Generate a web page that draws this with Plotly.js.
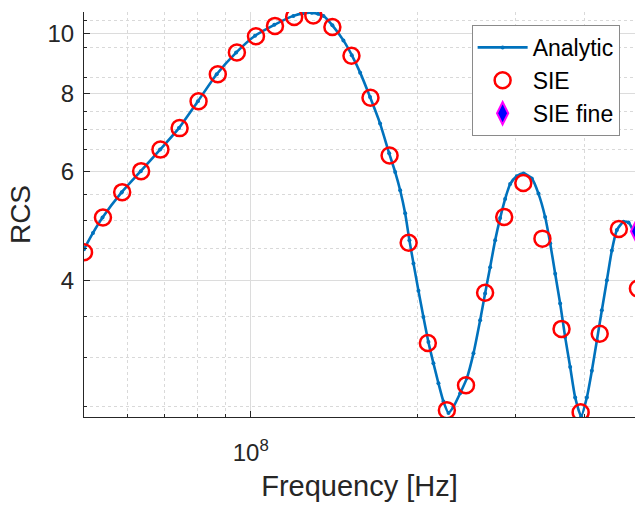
<!DOCTYPE html>
<html>
<head>
<meta charset="utf-8">
<script src="https://cdn.plot.ly/plotly-3.0.1.min.js"></script>
<style>
  html, body { margin: 0; padding: 0; background: #ffffff; overflow: hidden; }
  #chart { width: 635px; height: 505px; }
</style>
</head>
<body>
<div id="chart"></div>
<script>
// Analytic curve (frequency in Hz, RCS)
var analyticFreq = [
  5.00e7, 5.19e7, 5.40e7, 5.85e7, 6.33e7, 6.86e7, 7.42e7, 8.03e7, 8.68e7, 9.41e7,
  1.018e8, 1.103e8, 1.194e8, 1.243e8, 1.289e8, 1.323e8, 1.353e8, 1.404e8, 1.470e8, 1.522e8,
  1.576e8, 1.642e8, 1.712e8, 1.778e8, 1.823e8, 1.861e8, 1.900e8, 1.934e8, 1.967e8, 2.008e8,
  2.050e8, 2.093e8, 2.137e8, 2.182e8, 2.228e8, 2.275e8, 2.322e8, 2.388e8, 2.455e8, 2.524e8,
  2.595e8, 2.649e8, 2.705e8, 2.762e8, 2.820e8, 2.879e8, 2.940e8, 3.023e8, 3.107e8, 3.217e8,
  3.307e8, 3.400e8, 3.472e8, 3.545e8, 3.619e8, 3.695e8, 3.773e8, 3.852e8, 3.949e8, 4.044e8,
  4.129e8, 4.216e8, 4.304e8, 4.395e8, 4.487e8, 4.581e8, 4.709e8, 4.808e8, 4.909e8, 5.00e8
];
var analyticRCS = [
  4.49, 4.77, 5.05, 5.55, 6.00, 6.50, 7.04, 7.78, 8.60, 9.32,
  9.92, 10.33, 10.68, 10.78, 10.80, 10.76, 10.68, 10.31, 9.75, 9.23,
  8.65, 7.90, 7.16, 6.41, 5.98, 5.59, 5.13, 4.64, 4.26, 3.85,
  3.49, 3.18, 2.94, 2.73, 2.55, 2.445, 2.50, 2.63, 2.78, 3.05,
  3.45, 3.81, 4.20, 4.64, 5.04, 5.41, 5.72, 5.89, 5.95, 5.84,
  5.52, 5.06, 4.59, 4.10, 3.67, 3.24, 2.90, 2.59, 2.415, 2.59,
  2.86, 3.20, 3.58, 4.00, 4.47, 4.82, 4.97, 4.96, 4.79, 4.56
];

// SIE samples
var sieFreq = [
  5.00e7, 5.41e7, 5.86e7, 6.34e7, 6.87e7, 7.44e7, 8.05e7, 8.72e7, 9.44e7, 1.022e8,
  1.106e8, 1.198e8, 1.297e8, 1.404e8, 1.520e8, 1.645e8, 1.781e8, 1.928e8, 2.088e8, 2.260e8,
  2.447e8, 2.649e8, 2.868e8, 3.105e8, 3.362e8, 3.640e8, 3.941e8, 4.266e8, 4.619e8, 5.00e8
];
var sieRCS = [
  4.44, 5.05, 5.55, 6.00, 6.50, 7.04, 7.78, 8.60, 9.32, 9.90,
  10.29, 10.64, 10.70, 10.25, 9.21, 7.88, 6.36, 4.60, 3.17, 2.47,
  2.71, 3.82, 5.06, 5.74, 4.67, 3.34, 2.45, 3.28, 4.84, 3.88
];

// SIE fine sample
var fineFreq = [5.00e8];
var fineRCS = [4.80];

// Axis ticks
var xTickVals = [1e8];
var xTickText = ['10<sup>8</sup>'];
var xMinorVals = [5e7, 6e7, 7e7, 8e7, 9e7, 2e8, 3e8, 4e8, 5e8];
var yTickVals = [4, 6, 8, 10];
var yTickText = ['4', '6', '8', '10'];
var yMinorVals = [2.5, 3, 3.5, 4.5, 5, 5.5, 6.5, 7, 7.5, 8.5, 9.5, 10.5];

var FONT = 'Liberation Sans, Arial, Helvetica, sans-serif';
var INK = '#262626';

var traces = [
  {
    x: analyticFreq, y: analyticRCS, name: 'Analytic',
    type: 'scatter', mode: 'lines+markers',
    line: { color: '#0072BD', width: 2.6, shape: 'spline', smoothing: 0.6 },
    marker: { color: '#0072BD', size: 4 }
  },
  {
    x: sieFreq, y: sieRCS, name: 'SIE',
    type: 'scatter', mode: 'markers',
    marker: { symbol: 'circle-open', size: 16, color: '#FF0000', line: { color: '#FF0000', width: 2.5 } }
  },
  {
    x: fineFreq, y: fineRCS, name: 'SIE fine',
    type: 'scatter', mode: 'markers',
    marker: { symbol: 'diamond-tall', size: 20, color: '#0000FF', line: { color: '#FF00FF', width: 2 } }
  }
];

var layout = {
  width: 635, height: 505,
  margin: { l: 84, r: 0, t: 12, b: 88 },
  paper_bgcolor: '#ffffff', plot_bgcolor: '#ffffff',
  font: { family: FONT, color: INK, size: 24 },
  showlegend: true,
  legend: {
    x: 0.7035, y: 0.968, xanchor: 'left', yanchor: 'top',
    bgcolor: '#ffffff', bordercolor: '#8a8a8a', borderwidth: 1,
    font: { family: FONT, size: 23, color: '#000000' },
    itemwidth: 50, tracegroupgap: 0
  },
  xaxis: {
    type: 'log',
    range: [Math.log10(5e7), Math.log10(4.94e8)],
    showline: true, linecolor: INK, linewidth: 1,
    mirror: false, zeroline: false,
    ticks: 'inside', ticklen: 6, tickcolor: INK, tickwidth: 1,
    tickmode: 'array', tickvals: xTickVals, ticktext: xTickText,
    tickfont: { family: FONT, size: 24, color: INK },
    ticklabelstandoff: 14,
    showgrid: true, gridcolor: '#dcdcdc', gridwidth: 1,
    minor: {
      tickmode: 'array', tickvals: xMinorVals,
      ticks: 'inside', ticklen: 3, tickcolor: INK, tickwidth: 1,
      showgrid: true, gridcolor: '#d9d9d9', gridwidth: 1, griddash: 'dot'
    },
    title: { text: 'Frequency [Hz]', font: { family: FONT, size: 29, color: INK }, standoff: 10 }
  },
  yaxis: {
    type: 'log',
    range: [Math.log10(2.408), Math.log10(10.835)],
    showline: true, linecolor: INK, linewidth: 1,
    mirror: false, zeroline: false,
    ticks: 'inside', ticklen: 6, tickcolor: INK, tickwidth: 1,
    tickmode: 'array', tickvals: yTickVals, ticktext: yTickText,
    tickfont: { family: FONT, size: 24, color: INK },
    ticklabelstandoff: 4,
    showgrid: true, gridcolor: '#dcdcdc', gridwidth: 1,
    minor: {
      tickmode: 'array', tickvals: yMinorVals,
      ticks: 'inside', ticklen: 3, tickcolor: INK, tickwidth: 1,
      showgrid: true, gridcolor: '#d9d9d9', gridwidth: 1, griddash: 'dot'
    },
    title: { text: 'RCS', font: { family: FONT, size: 28, color: INK }, standoff: 8 }
  }
};

Plotly.newPlot('chart', traces, layout, { displayModeBar: false, staticPlot: true });
</script>
</body>
</html>
